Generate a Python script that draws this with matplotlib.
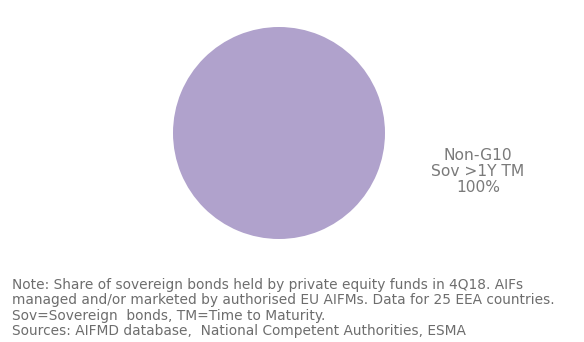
import matplotlib
matplotlib.use("Agg")
import matplotlib.pyplot as plt

labels = ["Non-G10\nSov >1Y TM\n100%"]
values = [100]
colors = ["#B0A2CC"]

note_lines = [
    "Note: Share of sovereign bonds held by private equity funds in 4Q18. AIFs",
    "managed and/or marketed by authorised EU AIFMs. Data for 25 EEA countries.",
    "Sov=Sovereign  bonds, TM=Time to Maturity.",
    "Sources: AIFMD database,  National Competent Authorities, ESMA",
]

fig = plt.figure(figsize=(5.84, 3.42), dpi=100)
W, H = 584, 342
cx, cy, r = 279, 133, 106
ax = fig.add_axes([(cx - r) / W, 1 - (cy + r) / H, 2 * r / W, 2 * r / H])
ax.pie(values, colors=colors, startangle=90, counterclock=False,
       wedgeprops=dict(linewidth=0))
ax.set_aspect("equal")
ax.set_xlim(-1, 1)
ax.set_ylim(-1, 1)
ax.axis("off")

fig.text(478 / W, 1 - 171.5 / H, labels[0], ha="center", va="center",
         fontsize=11.2, color="#7a7a7a", family="DejaVu Sans", linespacing=1.12)

y0 = 285
for i, line in enumerate(note_lines):
    fig.text(12 / W, 1 - (y0 + i * 15.3) / H, line, ha="left", va="center",
             fontsize=9.9, color="#6d6d6d", family="DejaVu Sans")

fig.savefig("out.png", dpi=100)
